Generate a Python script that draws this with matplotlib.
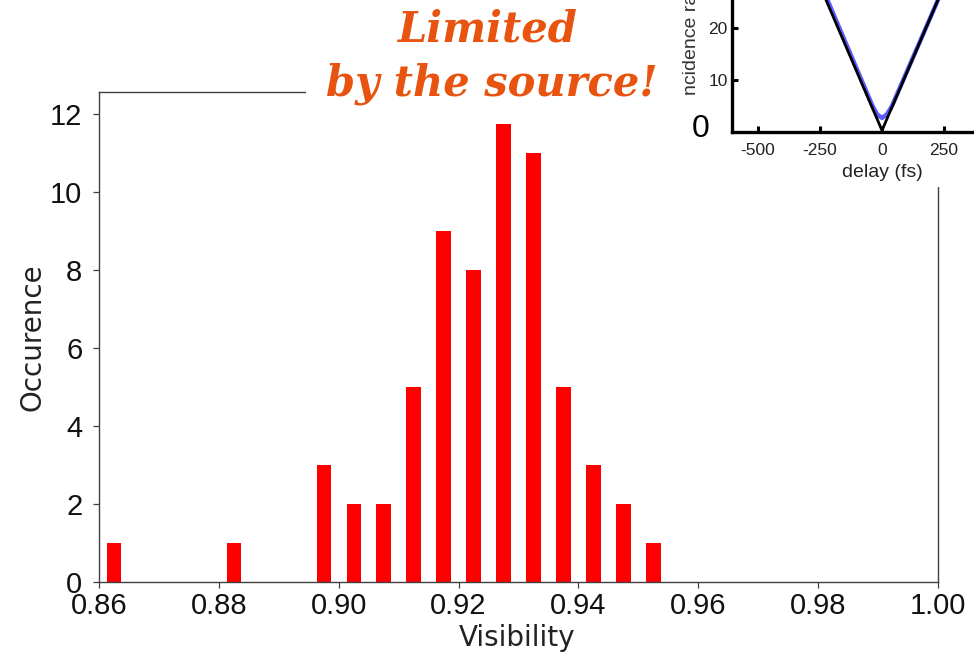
import numpy as np
import matplotlib
matplotlib.use("Agg")
import matplotlib.pyplot as plt
from matplotlib.patches import Rectangle

plt.rcParams['axes.unicode_minus'] = False

# histogram of visibilities (bin centres and counts)
visibility = [0.8625, 0.8825, 0.8975, 0.9025, 0.9075, 0.9125, 0.9175,
              0.9225, 0.9275, 0.9325, 0.9375, 0.9425, 0.9475, 0.9525]
occurence = [1, 1, 3, 2, 2, 5, 9, 8, 11.75, 11, 5, 3, 2, 1]
x_ticks = [0.86, 0.88, 0.90, 0.92, 0.94, 0.96, 0.98, 1.00]
y_ticks = [0, 2, 4, 6, 8, 10, 12]

# inset: HOM dip (coincidence rate vs delay)
delay_fit = [-600, 0, 600]
rate_fit = [67, 0.3, 67]
delay_meas = [-600, -40, -20, 0, 20, 40, 600]
rate_meas = [68, 5.2, 3.4, 2.7, 3.4, 5.0, 66.5]
inset_xticks = [-500, -250, 0, 250, 500]
inset_yticks = [10, 20, 30, 40]

W, H = 974, 655
fig = plt.figure(figsize=(W / 100, H / 100), dpi=100)

def fx(px):
    return px / W

def fy(py):
    return 1 - py / H

# main histogram
ax = fig.add_axes([fx(99), fy(582), fx(938) - fx(99), fy(92) - fy(582)])
ax.bar(visibility, occurence, width=0.0024, color='#ff0000', edgecolor='none')
ax.set_xlim(0.86, 1.00)
ax.set_ylim(0, 12.56)
ax.set_xticks(x_ticks)
ax.set_xticklabels(["%.2f" % v for v in x_ticks])
ax.set_yticks(y_ticks)
for s in ax.spines.values():
    s.set_color('#404040')
    s.set_linewidth(1.0)
ax.tick_params(axis='both', direction='out', length=4, width=0.9, color='#404040',
               labelsize=21, labelcolor='#111111')
ax.tick_params(axis='x', pad=3)
ax.tick_params(axis='y', pad=8)
for lab in ax.get_xticklabels() + ax.get_yticklabels():
    lab.set_family('Liberation Sans')

fig.text(fx(33), fy(337), 'Occurence', rotation=90, ha='center', va='center',
         fontsize=20, family='DejaVu Sans', color='#222222')
fig.text(fx(517), fy(638), 'Visibility', ha='center', va='center',
         fontsize=20, family='DejaVu Sans', color='#222222')

# white boxes covering the frame behind the title and the inset
fig.patches.append(Rectangle((fx(306), fy(106)), fx(680) - fx(306), fy(0) - fy(106),
                             transform=fig.transFigure, facecolor='white',
                             edgecolor='none', zorder=1))
fig.patches.append(Rectangle((fx(680), fy(187)), fx(974) - fx(680), fy(0) - fy(187),
                             transform=fig.transFigure, facecolor='white',
                             edgecolor='none', zorder=1))

# inset axes, partly outside the figure
px_per_fs = 62 / 250
px_per_unit = 5.2
x0, x1 = -605, 605
y0, y1 = 0, 45
left = 882 + x0 * px_per_fs
right = 882 + x1 * px_per_fs
top = 132 - y1 * px_per_unit
axi = fig.add_axes([fx(left), fy(132), fx(right) - fx(left), fy(top) - fy(132)], zorder=2)
axi.plot(delay_meas, rate_meas, color='#4040ff', lw=3.2, alpha=0.85, solid_capstyle='round')
axi.plot(delay_fit, rate_fit, color='black', lw=2.0)
axi.set_xlim(x0, x1)
axi.set_ylim(y0, y1)
axi.set_xticks(inset_xticks)
axi.set_yticks(inset_yticks)
axi.spines['top'].set_visible(False)
axi.spines['right'].set_visible(False)
for s in ['left', 'bottom']:
    axi.spines[s].set_linewidth(2.4)
axi.tick_params(axis='both', direction='in', length=4, width=2.2, labelsize=12.5,
                labelcolor='#222222', pad=8)
axi.tick_params(axis='y', pad=3)
for lab in axi.get_xticklabels() + axi.get_yticklabels():
    lab.set_family('Liberation Sans')
axi.set_xlabel('delay (fs)', fontsize=14, family='Liberation Sans', color='#222222', labelpad=4)

fig.text(fx(701), fy(129), '0', ha='center', va='center', fontsize=23,
         family='Liberation Sans', color='black', zorder=3)
fig.text(fx(692), fy(95), 'ncidence rate', rotation=90, ha='center', va='bottom',
         fontsize=14, family='Liberation Sans', color='#333333', zorder=3)

# title
orange = '#e8540f'
fig.text(fx(488), fy(29), 'Limited', ha='center', va='center', fontsize=30,
         family='DejaVu Serif', weight='bold', style='italic', color=orange, zorder=3)
fig.text(fx(492), fy(84), 'by the source!', ha='center', va='center', fontsize=30,
         family='DejaVu Serif', weight='bold', style='italic', color=orange, zorder=3)

plt.savefig('out.png', dpi=100)
plt.close()
